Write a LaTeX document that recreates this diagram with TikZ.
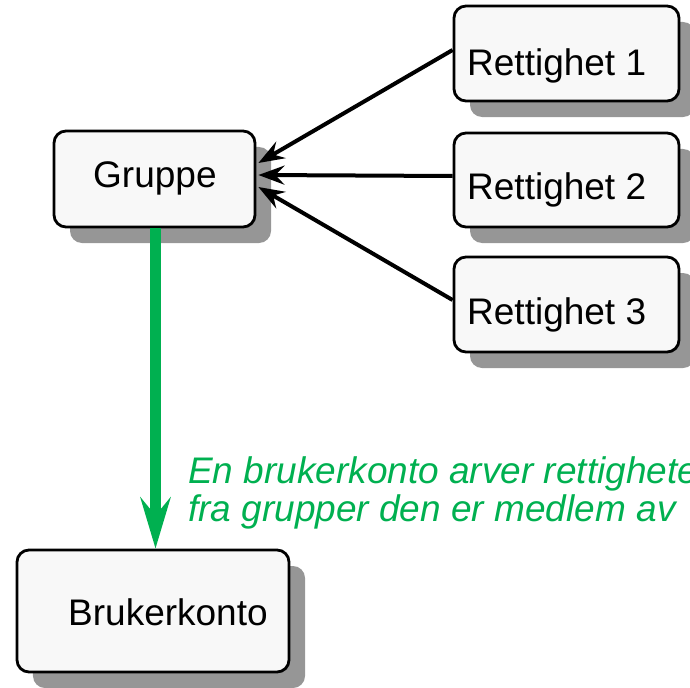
\documentclass[tikz,border=0pt]{standalone}
\usepackage{fontspec}
\setmainfont{Liberation Sans}
\usetikzlibrary{arrows.meta,shadows}
\definecolor{boxfill}{RGB}{248,248,248}
\definecolor{shadowgray}{RGB}{150,150,150}
\definecolor{notegreen}{RGB}{0,176,80}
\tikzset{
  box/.style={draw=black, line width=2.8bp, rounded corners=12bp, fill=boxfill,
    inner sep=0pt,
    drop shadow={shadow xshift=16bp, shadow yshift=-16bp, fill=shadowgray, opacity=1}},
  lbl/.style={anchor=base west, inner sep=0pt, font=\fontsize{37bp}{43bp}\selectfont},
  arr/.style={draw=black, line width=4bp, -{Stealth[length=26bp,width=19bp,inset=9bp]}},
  greenarr/.style={draw=notegreen, line width=11bp, -{Stealth[length=51bp,width=30bp,inset=18bp]}},
  note/.style={anchor=base west, inner sep=0pt, text=notegreen,
    font=\fontsize{37bp}{43bp}\selectfont\itshape}
}
\begin{document}
\begin{tikzpicture}[x=1bp,y=-1bp]
\useasboundingbox (0,0) rectangle (690,688);
% boxes
\node[box, minimum width=201bp, minimum height=96bp] (g) at (154.5,179) {};
\node[box, minimum width=225bp, minimum height=95bp] (r1) at (566.5,53.5) {};
\node[box, minimum width=225bp, minimum height=94bp] (r2) at (566.5,180) {};
\node[box, minimum width=225bp, minimum height=95bp] (r3) at (566.5,304.5) {};
\node[box, minimum width=272bp, minimum height=122bp] (b) at (153,611) {};
% labels
\node[lbl] (tg) at (93,187) {Gruppe};
\node[lbl] (t1) at (467,76) {Rettighet 1};
\node[lbl] (t2) at (467,199) {Rettighet 2};
\node[lbl] (t3) at (467,324) {Rettighet 3};
\node[lbl] (tb) at (68,625) {Brukerkonto};
% connectors
\draw[arr] ([yshift=3.5bp]r1.west) -- ([xshift=2bp,yshift=16bp]g.east);
\draw[arr] ([yshift=4bp]r2.west) -- ([xshift=2bp,yshift=4bp]g.east);
\draw[arr] ([yshift=4.5bp]r3.west) -- ([xshift=2bp,yshift=-8bp]g.east);
\coordinate (gs) at ([xshift=1bp]g.south);
\draw[greenarr] (gs) -- (gs |- b.north);
% note
\node[note] (n1) at (188,483) {En brukerkonto arver rettigheter};
\node[note] (n2) at (188,521) {fra grupper den er medlem av};
\end{tikzpicture}
\end{document}
